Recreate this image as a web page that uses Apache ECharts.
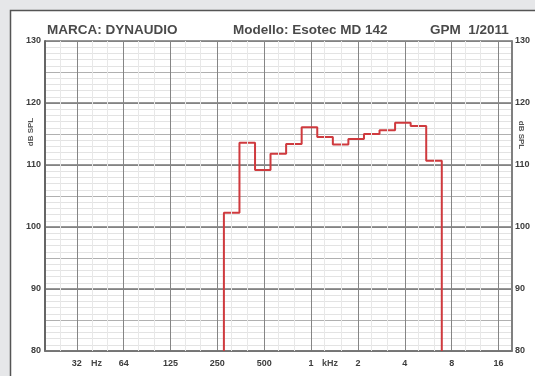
<!DOCTYPE html>
<html lang="it">
<head>
<meta charset="UTF-8" />
<title>Dynaudio Esotec MD 142</title>
<script src="https://cdn.jsdelivr.net/npm/echarts@6/dist/echarts.min.js"></script>
<style>
  html, body { margin: 0; padding: 0; background: #fff; }
  #main { width: 535px; height: 376px; }
</style>
</head>
<body>
<div id="main"></div>
<script>
// 1/3 octave bands, 315 Hz .. 6.3 kHz (lower edges + last upper edge)
var bandEdges = [282, 355, 447, 562, 708, 891, 1122, 1413, 1778, 2239, 2818, 3548, 4467, 5623, 7079];
var bandLevels = [102.3, 113.6, 109.2, 111.8, 113.4, 116.1, 114.5, 113.3, 114.2, 115.0, 115.6, 116.8, 116.3, 110.7];

var octaveTicks = [32, 64, 128, 256, 512, 1024, 2048, 4096, 8192, 16384];
var octaveLabels = ['32', '64', '125', '250', '500', '1', '2', '4', '8', '16'];
var thirdOctaveLines = [25, 40, 50, 80, 100, 160, 200, 315, 400, 630, 800, 1250, 1600, 2500, 3150, 5000, 6300, 10000, 12500];
var levelTicks = [80, 90, 100, 110, 120, 130];

var chart = echarts.init(document.getElementById('main'));

// step curve: up from the floor at the first edge, down again at the last
var curve = [[bandEdges[0], levelTicks[0]]];
for (var i = 0; i < bandLevels.length; i++) {
  curve.push([bandEdges[i], bandLevels[i]]);
}
curve.push([bandEdges[bandEdges.length - 1], bandLevels[bandLevels.length - 1]]);
curve.push([bandEdges[bandEdges.length - 1], levelTicks[0]]);

var tickFont = { color: '#3c3c3c', fontSize: 9, fontWeight: 'bold', fontFamily: 'Liberation Sans' };

function head(left, top, text, size) {
  return {
    text: text, left: left, top: top, padding: 0,
    textStyle: { color: '#4a4a4a', fontSize: size, fontWeight: 'bold', fontFamily: 'Liberation Sans' }
  };
}

function sideText(x, y, rot) {
  return {
    type: 'text', x: x, y: y, rotation: rot, silent: true,
    style: {
      text: 'dB SPL', fill: '#555', font: 'bold 8px "Liberation Sans"',
      align: 'center', verticalAlign: 'middle'
    }
  };
}

var yBase = {
  type: 'value',
  min: levelTicks[0],
  max: levelTicks[levelTicks.length - 1],
  interval: 10,
  axisTick: { show: false }
};

var option = {
  backgroundColor: '#fff',
  animation: false,
  title: [
    head(47, 23, 'MARCA: DYNAUDIO', 13.5),
    head(233, 23, 'Modello: Esotec MD 142', 13.5),
    head(430, 23, 'GPM  1/2011', 13.5),
    head(91, 359, 'Hz', 9),
    head(322, 359, 'kHz', 9)
  ],
  grid: { left: 45, right: 23, top: 41, bottom: 25, show: false },
  xAxis: {
    type: 'log',
    logBase: 2,
    min: 20,
    max: 20000,
    splitNumber: 10,
    axisLine: { show: true, lineStyle: { color: '#707070', width: 1.5 } },
    axisTick: { show: false },
    axisLabel: Object.assign({
      margin: 8,
      formatter: function (v) {
        var k = octaveTicks.indexOf(Math.round(v));
        return k < 0 ? '' : octaveLabels[k];
      }
    }, tickFont),
    splitLine: { show: true, lineStyle: { color: '#858585', width: 1 } }
  },
  yAxis: [
    Object.assign({}, yBase, {
      interval: 5,
      axisLine: { show: false },
      axisLabel: { show: false },
      splitLine: { show: true, lineStyle: { color: '#b0b0b0', width: 1 } },
      minorTick: { show: false, splitNumber: 5 },
      minorSplitLine: { show: true, lineStyle: { color: '#e3e3e3', width: 1 } }
    }),
    Object.assign({}, yBase, {
      position: 'left',
      axisLine: { show: true, lineStyle: { color: '#666', width: 2 } },
      axisLabel: Object.assign({ margin: 4 }, tickFont),
      splitLine: { show: true, lineStyle: { color: '#747474', width: 1.5 } }
    }),
    Object.assign({}, yBase, {
      position: 'right',
      axisLine: { show: true, lineStyle: { color: '#808080', width: 2 } },
      axisLabel: Object.assign({ margin: 3 }, tickFont),
      splitLine: { show: false }
    })
  ],
  series: [
    {
      type: 'line',
      data: [],
      yAxisIndex: 1,
      z: 1,
      markLine: {
        silent: true,
        symbol: 'none',
        label: { show: false },
        lineStyle: { color: '#e8e8e8', width: 1, type: 'solid' },
        data: thirdOctaveLines.map(function (f) { return { xAxis: f }; })
      }
    },
    {
      type: 'line',
      yAxisIndex: 1,
      z: 3,
      step: 'end',
      showSymbol: false,
      lineStyle: { color: '#cf3a3e', width: 2 },
      data: curve
    }
  ],
  graphic: [
    { type: 'rect', silent: true, shape: { x: 0, y: 0, width: 10, height: 376 }, style: { fill: '#e6e7e9' } },
    { type: 'rect', silent: true, shape: { x: 0, y: 0, width: 535, height: 10 }, style: { fill: '#e6e7e9' } },
    { type: 'polyline', silent: true, shape: { points: [[10.5, 376], [10.5, 10.5], [535, 10.5]] }, style: { stroke: '#555', lineWidth: 1.5, fill: null } },
    sideText(31, 132, Math.PI / 2),
    sideText(521, 135, -Math.PI / 2)
  ]
};

chart.setOption(option);
</script>
</body>
</html>
